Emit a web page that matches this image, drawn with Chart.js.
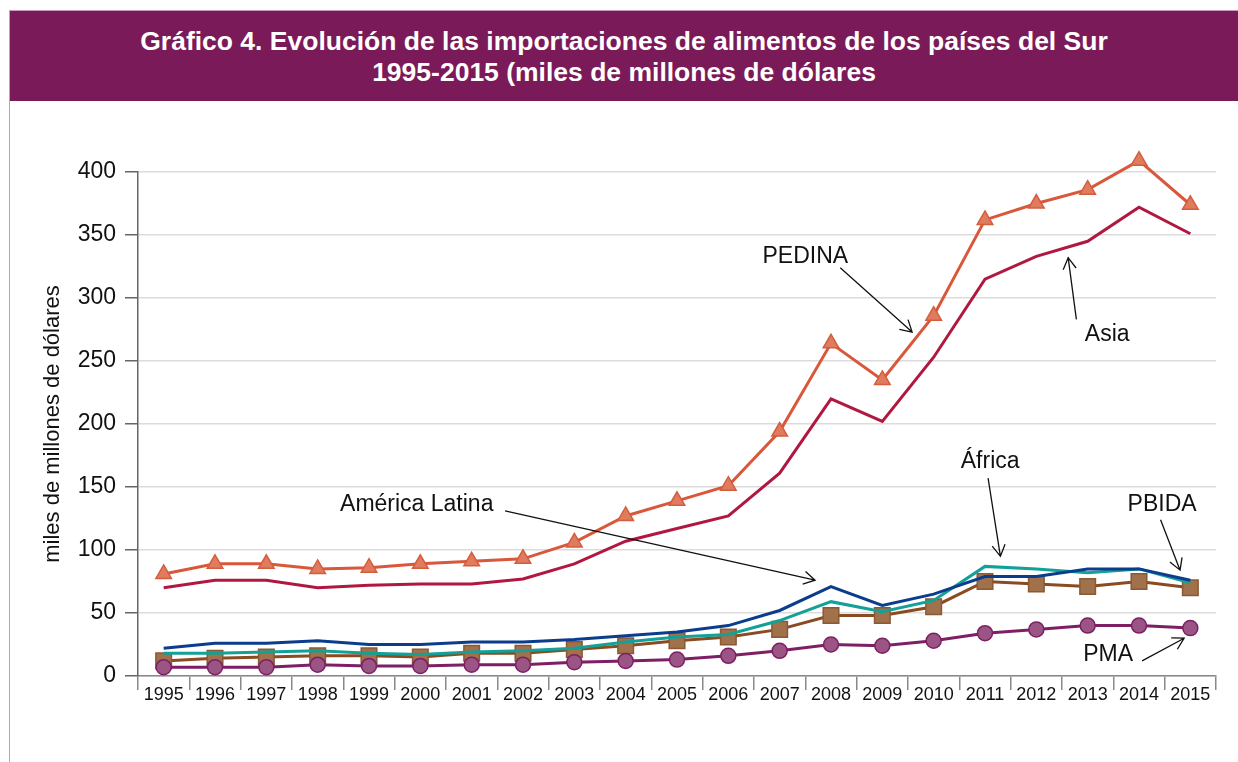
<!DOCTYPE html>
<html>
<head>
<meta charset="utf-8">
<script src="https://cdn.jsdelivr.net/npm/chart.js@4/dist/chart.umd.min.js"></script>
<style>
  html, body { margin: 0; padding: 0; background: #fff; }
  #marco { position: absolute; left: 9px; top: 10px; width: 1229px; height: 752px;
           border-left: 1px solid #c99bb8; border-top: 1px solid #c99bb8; }
  #titulo { position: absolute; left: 10px; top: 11px; width: 1228px; height: 90px;
            background: #7b1a58; color: #fff; text-align: center;
            font: bold 26.5px "Liberation Sans", Arial, sans-serif; line-height: 31px;
            padding-top: 15px; box-sizing: border-box; }
  #wrap { position: absolute; left: 0; top: 0; width: 1238px; height: 762px; }
</style>
</head>
<body>
<div id="marco"></div>
<div id="titulo">Gráfico 4. Evolución de las importaciones de alimentos de los países del Sur<br>1995-2015 (miles de millones de dólares</div>
<div id="wrap"><canvas id="grafico" width="1238" height="762"></canvas></div>
<script>
/* datos (miles de millones USD) */
var anios = ["1995","1996","1997","1998","1999","2000","2001","2002","2003","2004",
             "2005","2006","2007","2008","2009","2010","2011","2012","2013","2014","2015"];

var pedina  = [81, 89, 89, 85, 86, 89, 91, 93, 106, 127, 139, 151, 194, 264, 235, 286, 362, 375, 386, 409, 374];
var asia    = [70, 76, 76, 70, 72, 73, 73, 77, 89, 107, 117, 127, 161, 220, 202, 253, 315, 333, 345, 372, 351];
var amLat   = [22, 26, 26, 28, 25, 25, 27, 27, 29, 32, 35, 40, 52, 71, 56, 65, 79, 79, 85, 85, 76];
var africa  = [18, 18, 19, 20, 18, 17, 19, 20, 22, 27, 31, 33, 44, 59, 51, 60, 87, 85, 82, 85, 74];
var pbida   = [12, 14, 15, 16, 16, 15, 18, 18, 21, 24, 28, 31, 37, 48, 48, 55, 75, 73, 71, 75, 70];
var pma     = [7, 7, 7, 9, 8, 8, 9, 9, 11, 12, 13, 16, 20, 25, 24, 28, 34, 37, 40, 40, 38];

var yTicks = [0, 50, 100, 150, 200, 250, 300, 350, 400];

/* etiquetas con flecha: [indice categoria, valor] */
var etiquetas = [
  { texto: "PEDINA",         pos: [12.5, 333],  desde: [13.18, 324], hasta: [14.58, 273] },
  { texto: "Asia",           pos: [18.38, 271], desde: [17.78, 283], hasta: [17.62, 332] },
  { texto: "América Latina", pos: [4.93, 136],  desde: [6.65, 131],  hasta: [12.69, 76] },
  { texto: "África",         pos: [16.1, 170],  desde: [16.06, 157], hasta: [16.3, 95] },
  { texto: "PBIDA",          pos: [19.45, 136], desde: [19.42, 124], hasta: [19.8, 84] },
  { texto: "PMA",            pos: [18.4, 17],   desde: [19.06, 12],  hasta: [19.88, 30] }
];

var fuente = '"Liberation Sans", Arial, sans-serif';

function serie(label, data, color, extra) {
  var d = {
    label: label, data: data,
    borderColor: color, backgroundColor: color,
    borderWidth: 3, pointRadius: 0, pointHoverRadius: 0, tension: 0, clip: false
  };
  for (var k in extra) d[k] = extra[k];
  return d;
}

/* deja dibujar marcadores que sobresalen del area (2014 > 400) */
var pluginArea = {
  id: "area",
  beforeDatasetsDraw: function (chart) { chart.chartArea.top -= 30; },
  afterDatasetsDraw: function (chart) { chart.chartArea.top += 30; }
};

var pluginEtiquetas = {
  id: "etiquetas",
  afterDatasetsDraw: function (chart) {
    var ctx = chart.ctx, x = chart.scales.x, y = chart.scales.y;
    ctx.save();
    ctx.font = "23px " + fuente;
    ctx.fillStyle = "#111";
    ctx.textAlign = "center";
    ctx.textBaseline = "middle";
    ctx.strokeStyle = "#111";
    ctx.lineWidth = 1.3;
    etiquetas.forEach(function (e) {
      ctx.fillText(e.texto, x.getPixelForValue(e.pos[0]), y.getPixelForValue(e.pos[1]));
      var x1 = x.getPixelForValue(e.desde[0]), y1 = y.getPixelForValue(e.desde[1]);
      var x2 = x.getPixelForValue(e.hasta[0]), y2 = y.getPixelForValue(e.hasta[1]);
      var ang = Math.atan2(y2 - y1, x2 - x1), L = 13, a = Math.PI / 6;
      ctx.beginPath();
      ctx.moveTo(x1, y1); ctx.lineTo(x2, y2);
      ctx.moveTo(x2 - L * Math.cos(ang - a), y2 - L * Math.sin(ang - a));
      ctx.lineTo(x2, y2);
      ctx.lineTo(x2 - L * Math.cos(ang + a), y2 - L * Math.sin(ang + a));
      ctx.stroke();
    });
    ctx.restore();
  }
};

new Chart(document.getElementById("grafico"), {
  type: "line",
  data: {
    labels: anios,
    datasets: [
      serie("PMA", pma, "#7e1f66", { pointStyle: "circle", pointRadius: 7.5, pointBackgroundColor: "#9a5584", pointBorderColor: "#7e1f66", pointBorderWidth: 1.5 }),
      serie("América Latina", amLat, "#0b3d8c", {}),
      serie("África", africa, "#13a097", {}),
      serie("PBIDA", pbida, "#8a4b20", { pointStyle: "rect", pointRadius: 11, pointBackgroundColor: "#a0714b", pointBorderColor: "#8a5a35", pointBorderWidth: 1.5 }),
      serie("Asia", asia, "#b01840", {}),
      serie("PEDINA", pedina, "#d9573a", { pointStyle: "triangle", pointRadius: 9, pointBackgroundColor: "#e07b5e", pointBorderColor: "#d45d3f", pointBorderWidth: 1.5 })
    ]
  },
  options: {
    responsive: false,
    animation: false,
    layout: { padding: { left: 0, top: 172, right: 22, bottom: 0 } },
    plugins: { legend: { display: false }, tooltip: { enabled: false } },
    scales: {
      x: {
        offset: true,
        grid: { offset: true, drawOnChartArea: false, tickLength: 14, tickColor: "#888", lineWidth: 1.5 },
        border: { color: "#888", width: 1.5 },
        ticks: { color: "#111", font: { size: 18, family: fuente }, padding: -6, maxRotation: 0, autoSkip: false },
        afterFit: function (s) { s.height = 86; }
      },
      y: {
        min: 0, max: 400,
        afterBuildTicks: function (s) { s.ticks = yTicks.map(function (v) { return { value: v }; }); },
        grid: { color: "#dcdcdc", lineWidth: 1.5, tickLength: 13, tickColor: "#666" },
        border: { color: "#666", width: 1.5 },
        ticks: { color: "#111", font: { size: 23, family: fuente }, padding: 9 },
        title: { display: true, text: "miles de millones de dólares", color: "#111",
                 font: { size: 22, family: fuente }, padding: { top: 40, bottom: 0 } },
        afterFit: function (s) { s.width = 138; }
      }
    }
  },
  plugins: [pluginArea, pluginEtiquetas]
});
</script>
</body>
</html>
